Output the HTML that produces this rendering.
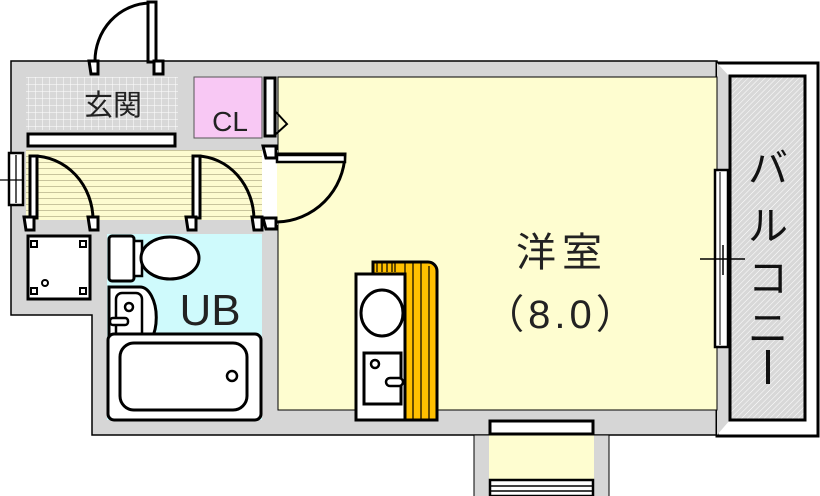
<!DOCTYPE html>
<html><head><meta charset="utf-8"><style>html,body{margin:0;padding:0;background:#fff}svg{display:block}</style></head>
<body>
<svg width="820" height="496" viewBox="0 0 820 496" xmlns="http://www.w3.org/2000/svg" font-family="'Liberation Sans','Noto Sans CJK JP',sans-serif">
<defs>
<pattern id="tile" width="7" height="7" patternUnits="userSpaceOnUse"><rect width="7" height="7" fill="#d8d8d8"/><path d="M0 0H7M0 0V7" stroke="#fff" stroke-width="1"/></pattern>
<pattern id="lines" width="6" height="6" patternUnits="userSpaceOnUse"><rect width="6" height="6" fill="#fdfbd0"/><path d="M0 0.5H6" stroke="#c8c49c" stroke-width="1"/></pattern>
<pattern id="hatch" width="4" height="4" patternUnits="userSpaceOnUse" patternTransform="rotate(45)"><rect width="4" height="4" fill="#d8d8d8"/><path d="M0 0V4" stroke="#fff" stroke-width="1"/></pattern>
</defs>
<path d="M11 61H717V435H92V315H11Z" fill="#d6d6d6" stroke="#000" stroke-width="1.5"/>
<rect x="717" y="63" width="101" height="373" fill="#fff" stroke="#000" stroke-width="3"/>
<path d="M717 63L730 77V420L717 435Z" fill="#d6d6d6"/>
<rect x="730" y="76" width="75" height="344" fill="url(#hatch)" stroke="#000" stroke-width="3"/>
<rect x="278" y="77" width="439" height="333" fill="#fefdd0" stroke="#000" stroke-width="1"/>
<rect x="26" y="77" width="152" height="53" fill="url(#tile)"/>
<text x="113" y="115" font-size="29" text-anchor="middle" fill="#222">玄関</text>
<rect x="28" y="134" width="147" height="12" fill="#fff" stroke="#000" stroke-width="3"/>
<rect x="194" y="77" width="68" height="61" fill="#f8c8f4" stroke="#555" stroke-width="1"/>
<text x="230" y="131" font-size="28" text-anchor="middle" fill="#222">CL</text>
<rect x="265" y="78" width="10" height="58" fill="#fff" stroke="#000" stroke-width="3"/>
<path d="M276 112L287 124L276 134" fill="none" stroke="#000" stroke-width="2"/>
<rect x="26" y="150" width="236" height="70" fill="url(#lines)"/>
<rect x="262" y="150" width="16" height="75" fill="#fff"/>
<rect x="107" y="234" width="155" height="186" fill="#cffafc"/>
<rect x="109" y="236" width="25" height="45" rx="3" fill="#fff" stroke="#000" stroke-width="3"/>
<rect x="134" y="241" width="8" height="35" fill="#fff" stroke="#000" stroke-width="2.5"/>
<ellipse cx="170" cy="258" rx="29" ry="21" fill="#fff" stroke="#000" stroke-width="3"/>
<path d="M109 287H140A16 30 0 0 1 140 348H109Z" fill="#fff" stroke="#000" stroke-width="3"/>
<rect x="116" y="293" width="26" height="48" rx="6" fill="#fff" stroke="#000" stroke-width="2.5"/>
<circle cx="129" cy="307" r="4" fill="#fff" stroke="#000" stroke-width="2.5"/>
<rect x="110" y="318" width="18" height="7" rx="3" fill="#fff" stroke="#000" stroke-width="2.5"/>
<text x="210" y="325" font-size="44" text-anchor="middle" fill="#222">UB</text>
<rect x="108" y="334" width="153" height="86" rx="6" fill="#fff" stroke="#000" stroke-width="3"/>
<rect x="120" y="343" width="127" height="67" rx="14" fill="#fff" stroke="#000" stroke-width="3"/>
<circle cx="232" cy="376" r="5" fill="#fff" stroke="#000" stroke-width="2.5"/>
<rect x="28" y="236" width="62" height="63" fill="#fff" stroke="#000" stroke-width="3"/>
<rect x="31" y="241" width="6" height="6" fill="#fff" stroke="#000" stroke-width="2"/>
<rect x="80" y="241" width="6" height="6" fill="#fff" stroke="#000" stroke-width="2"/>
<rect x="31" y="288" width="6" height="6" fill="#fff" stroke="#000" stroke-width="2"/>
<rect x="80" y="288" width="6" height="6" fill="#fff" stroke="#000" stroke-width="2"/>
<circle cx="45" cy="283" r="3" fill="#fff" stroke="#000" stroke-width="2"/>
<path d="M373 262H428A9 9 0 0 1 437 271V420H373Z" fill="#ffc000" stroke="#000" stroke-width="3"/>
<path d="M377 262V272M382 262V272M387 262V272M392 262V272M395 262V272M405 262V420M413 262V420M421 262V420M429 266V420" stroke="#000" stroke-width="1.2"/>
<rect x="356" y="274" width="49" height="146" fill="#fff" stroke="#000" stroke-width="3"/>
<ellipse cx="382" cy="313" rx="21" ry="23" fill="#fff" stroke="#000" stroke-width="3"/>
<rect x="364" y="353" width="37" height="51" fill="#fff" stroke="#000" stroke-width="3"/>
<circle cx="375" cy="364" r="4" fill="#fff" stroke="#000" stroke-width="2.5"/>
<rect x="386" y="378" width="17" height="8" rx="4" fill="#fff" stroke="#000" stroke-width="2.5"/>
<text x="562" y="266" font-size="40" text-anchor="middle" fill="#222" letter-spacing="6">洋室</text>
<text x="562" y="328" font-size="40" text-anchor="middle" fill="#222" letter-spacing="4">（8.0）</text>
<text x="768" y="182" font-size="40" text-anchor="middle" fill="#111">バ</text>
<text x="768" y="240" font-size="40" text-anchor="middle" fill="#111">ル</text>
<text x="768" y="292" font-size="40" text-anchor="middle" fill="#111">コ</text>
<text x="768" y="342" font-size="40" text-anchor="middle" fill="#111">ニ</text>
<rect x="766" y="350" width="4" height="34" fill="#111"/>
<rect x="715" y="170" width="13" height="177" fill="#fff" stroke="#000" stroke-width="2.5"/>
<path d="M720 172V345" stroke="#000" stroke-width="1"/>
<path d="M700 259H745M723 245V275" stroke="#000" stroke-width="1.5"/>
<rect x="474" y="435" width="135" height="62" fill="#d6d6d6" stroke="#000" stroke-width="1"/>
<rect x="489" y="435" width="105" height="62" fill="#fefdd0"/>
<rect x="490" y="421" width="103" height="13" fill="#fff" stroke="#000" stroke-width="3"/>
<rect x="490" y="480" width="103" height="16" fill="#fff" stroke="#000" stroke-width="2.5"/>
<path d="M490 486H593M490 491H593" stroke="#000" stroke-width="1.5"/>
<rect x="9" y="153" width="14" height="52" fill="#fff" stroke="#000" stroke-width="2.5"/>
<path d="M16 155V203M0 180H24" stroke="#000" stroke-width="1.3"/>
<path d="M95 62A56 58 0 0 1 150 3" fill="none" stroke="#000" stroke-width="3"/>
<rect x="148" y="2" width="8" height="60" fill="#fff" stroke="#000" stroke-width="3"/>
<path d="M89 61H98V74H91Z M154 61H163V74H154Z" fill="#fff" stroke="#000" stroke-width="3"/>
<path d="M33 156A60 64 0 0 1 93 220" fill="none" stroke="#000" stroke-width="3"/>
<rect x="30" y="156" width="7" height="62" fill="#fff" stroke="#000" stroke-width="3"/>
<path d="M197 156A58 64 0 0 1 254 220" fill="none" stroke="#000" stroke-width="3"/>
<rect x="193" y="156" width="7" height="62" fill="#fff" stroke="#000" stroke-width="3"/>
<path d="M24 217H34V230H26Z M88 217H98V230H90Z M186 217H196V230H188Z M252 217H262V230H254Z" fill="#fff" stroke="#000" stroke-width="3"/>
<path d="M277 154H345A70 70 0 0 1 277 222" fill="#fefdd0" stroke="#000" stroke-width="3"/>
<rect x="277" y="155" width="68" height="7" fill="#fff" stroke="#000" stroke-width="2.5"/>
<path d="M263 146H276V158H266Z M263 218H276V229H266Z" fill="#fff" stroke="#000" stroke-width="3"/>
</svg>
</body></html>
